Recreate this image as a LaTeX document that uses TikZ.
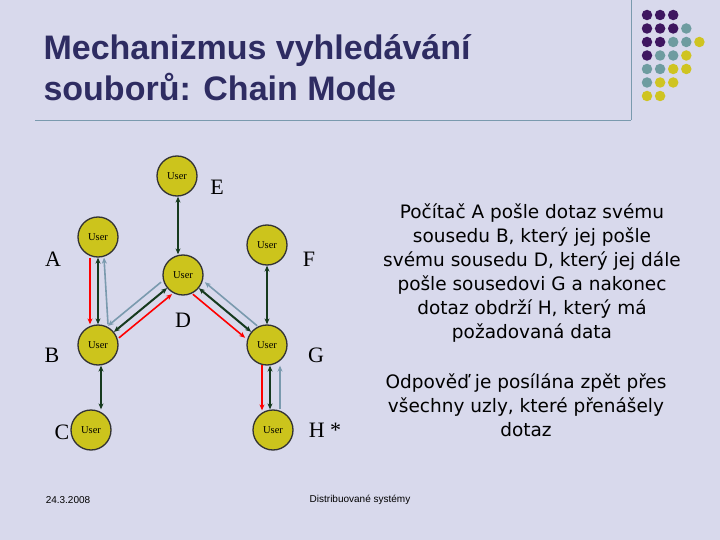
\documentclass[tikz,border=0pt]{standalone}
\usepackage{fontspec}
\setmainfont{Liberation Serif}
\newfontfamily\arialf{Liberation Sans}
\newfontfamily\dejaf{DejaVu Sans}
\usetikzlibrary{arrows.meta}
\definecolor{bg}{HTML}{D8D9EC}
\definecolor{ttl}{HTML}{2E2C62}
\definecolor{pur}{HTML}{3E1660}
\definecolor{tea}{HTML}{6E9CA0}
\definecolor{yel}{HTML}{CFC421}
\definecolor{nodey}{HTML}{CCC41C}
\definecolor{dgr}{HTML}{163A1E}
\definecolor{lnk}{HTML}{7A9AAE}
\tikzset{
 user/.style={circle,draw=black!80,line width=1.3pt,fill=nodey,minimum size=40pt,inner sep=0pt,font=\rmfamily\fontsize{10.5}{10}\selectfont},
 lbl/.style={font=\rmfamily\fontsize{22}{22}\selectfont},
 link/.style={dgr,line width=2pt,{Stealth[length=6pt,width=5pt]}-{Stealth[length=6pt,width=5pt]}},
 req/.style={red,line width=1.6pt,-{Stealth[length=6pt,width=5pt]}},
 rep/.style={lnk,line width=1.6pt,-{Stealth[length=6pt,width=5pt]}},
 dot/.style={circle,inner sep=0pt,minimum size=10.5pt},
 body/.style={font=\dejaf\fontsize{18.5}{24}\selectfont,align=center}
}
\begin{document}
\begin{tikzpicture}[x=1pt,y=-1pt]
\fill[bg] (0,0) rectangle (720,540);
\useasboundingbox (0,0) rectangle (720,540);
\node[anchor=west,align=left,text=ttl,font=\arialf\bfseries\fontsize{34}{41}\selectfont] (title) at (40,68) {Mechanizmus vyhledávání\\souborů: Chain Mode};
\coordinate (hl1) at (35,120); \coordinate (hl2) at (631,120);
\draw[lnk,line width=0.8pt] (hl1) -- (hl2);
\coordinate (vl1) at (631,0); \coordinate (vl2) at (631,120);
\draw[lnk,line width=0.8pt] (vl1) -- (vl2);
% dots
\foreach \r/\row in {0/{pur,pur,pur},1/{pur,pur,pur,tea},2/{pur,pur,tea,tea,yel},3/{pur,tea,tea,yel},4/{tea,tea,yel,yel},5/{tea,yel,yel},6/{yel,yel}}{
 \foreach \c [count=\i from 0] in \row {
  \node[dot,fill=\c] (d\r\i) at (647+13.1*\i,15+13.5*\r) {};
 }
}
% nodes
\node[user] (E) at (177,176) {User};
\node[user] (A) at (98,237) {User};
\node[user] (F) at (267,245) {User};
\node[user] (D) at (183,275) {User};
\node[user] (B) at (98,345) {User};
\node[user] (G) at (267,345) {User};
\node[user] (C) at (91,430) {User};
\node[user] (H) at (273,430) {User};
\node[lbl] (lE) at (217,187) {E};
\node[lbl] (lA) at (53,259) {A};
\node[lbl] (lF) at (309,259) {F};
\node[lbl] (lD) at (183,320) {D};
\node[lbl] (lB) at (52,355) {B};
\node[lbl] (lG) at (316,355) {G};
\node[lbl] (lC) at (62,432) {C};
\node[lbl] (lH) at (325,430) {H *};
% links
\draw[link] ([xshift=1]E.south) -- ([xshift=1]E.south |- D.north);
\draw[link] (A) -- (B);
\draw[link] (B) -- (D);
\draw[link] (D) -- (G);
\draw[link] (F) -- (G);
\draw[link] ([xshift=3]B.south) -- ([xshift=3]B.south |- C.north);
\draw[link] ([xshift=3]G.south) -- ([xshift=3]G.south |- H.north);
% requests
\draw[req] ([xshift=-8]A.south) -- ([xshift=-8]B.north);
\draw[req,transform canvas={shift={(5,6)}}] (B) -- (D);
\draw[req,transform canvas={shift={(-6,6)}}] (D) -- (G);
\draw[req] ([xshift=-5,yshift=1]G.south) -- ([xshift=-5,yshift=-1]G.south |- H.north);
% replies
\draw[rep] ([xshift=10]B.north) -- ([xshift=6]A.south);
\draw[rep,transform canvas={shift={(-6,-6)}}] (D) -- (B);
\draw[rep,transform canvas={shift={(6,-6)}}] (G) -- (D);
\draw[rep] ([xshift=13]G.south |- H.north) -- ([xshift=13]G.south);
% text
\node[body] (t1) at (532,273) {Počítač A pošle dotaz svému\\sousedu B, který jej pošle\\svému sousedu D, který jej dále\\pošle sousedovi G a nakonec\\dotaz obdrží H, který má\\požadovaná data};
\node[body] (t2) at (526,405) {Odpověď je posílána zpět přes\\všechny uzly, které přenášely\\dotaz};
\node[font=\arialf\fontsize{10}{10}\selectfont] (f1) at (68,500) {24.3.2008};
\node[font=\arialf\fontsize{10}{10}\selectfont] (f2) at (360,500) {Distribuované systémy};
\end{tikzpicture}
\end{document}
